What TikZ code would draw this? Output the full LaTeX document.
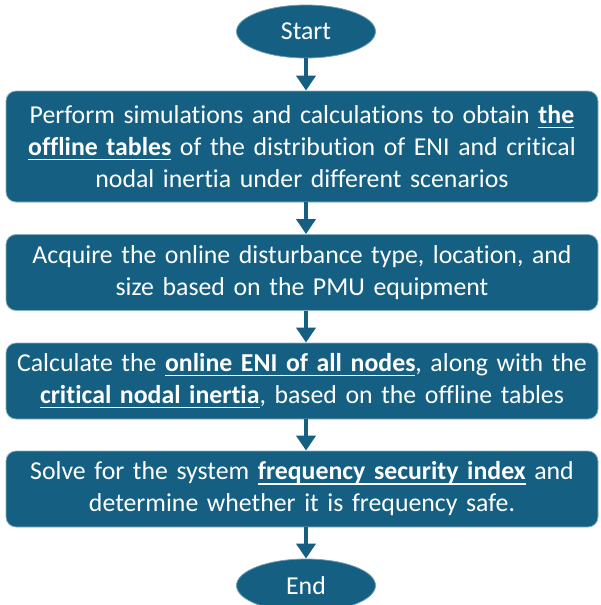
\documentclass[tikz,border=0pt]{standalone}
\usepackage{fontspec}
\setmainfont{Carlito}[Ligatures=NoCommon]
\usepackage{xcolor}
\usepackage{tikz}
\usetikzlibrary{shapes.geometric, arrows.meta, positioning}
\definecolor{flowblue}{RGB}{21, 96, 130}
\newcommand{\keyterm}[1]{\textbf{\setbox0\hbox{#1}\rlap{\vrule height -1.7pt depth 2.4pt width \wd0}\box0}}

\begin{document}
\begin{tikzpicture}[x=0.5pt, y=-0.5pt,
    terminal/.style={ellipse, draw=flowblue!60!white, fill=flowblue, text=white,
                     minimum width=69.5pt, minimum height=26.5pt, inner sep=0pt,
                     font=\fontsize{12.9}{16}\selectfont},
    process/.style={draw=flowblue!50!white, rounded corners=5pt, fill=flowblue, text=white,
                    minimum width=296pt, text width=292pt, align=center, inner sep=0pt,
                    font=\fontsize{12.9}{16}\selectfont},
    flow/.style={draw=flowblue, line width=2pt, -{Triangle[width=9.5pt, length=7.5pt]}}
]
    \clip (0,0) rectangle (600,605);
    \node[terminal] (start) at (306,31.5) {Start};
    \node[process, minimum height=55.5pt] (offline) at (302,146.5)
        {Perform simulations and calculations to obtain \keyterm{the}\\
         \keyterm{offline tables} of the distribution of ENI and critical\\
         nodal inertia under different scenarios};
    \node[process, minimum height=38pt] (acquire) at (302,272.5)
        {Acquire the online disturbance type, location, and\\
         size based on the PMU equipment};
    \node[process, minimum height=38pt] (calc) at (302,381)
        {Calculate the \keyterm{online ENI of all nodes}, along with the\\
         \keyterm{critical nodal inertia}, based on the offline tables};
    \node[process, minimum height=38pt] (solve) at (302,489)
        {Solve for the system \keyterm{frequency security index} and\\
         determine whether it is frequency safe.};
    \node[terminal] (end) at (306,585.5) {End};

    \draw[flow] (start.south) -- (start.south |- offline.north);
    \draw[flow] (offline.south -| start) -- (start |- acquire.north);
    \draw[flow] (acquire.south -| start) -- (start |- calc.north);
    \draw[flow] (calc.south -| start) -- (start |- solve.north);
    \draw[flow] (solve.south -| start) -- (end.north);
\end{tikzpicture}
\end{document}
